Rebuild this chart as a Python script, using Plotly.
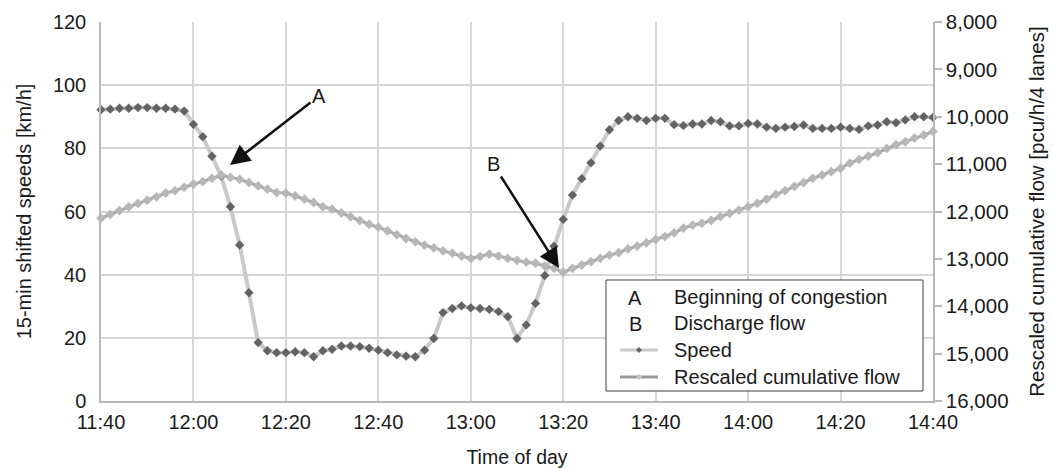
import pandas as pd
import plotly.graph_objects as go

# ---- data ----
times = pd.date_range("2000-01-01 11:40", "2000-01-01 14:40", freq="2min")

speed_kmh = [
    92.2, 92.4, 92.7, 92.7, 92.9, 92.9, 92.7, 92.7, 92.4, 91.8,
    87.6, 83.7, 77.5, 71.2, 61.5, 49.4, 34.3, 18.5, 15.9, 15.3,
    15.3, 15.6, 15.3, 14.0, 15.9, 16.4, 17.4, 17.4, 17.2, 16.7,
    16.1, 15.3, 14.6, 14.2, 14.0, 16.1, 19.8, 28.0, 29.3, 30.1,
    29.5, 29.3, 29.0, 28.3, 26.7, 19.8, 24.1, 30.9, 39.7, 49.0,
    57.5, 65.2, 70.4, 75.4, 80.7, 85.9, 88.8, 90.0, 89.5, 88.8,
    89.5, 89.5, 87.5, 87.2, 87.7, 87.7, 88.8, 88.4, 87.1, 87.1,
    87.9, 87.7, 86.7, 86.3, 86.7, 86.9, 87.4, 86.3, 86.3, 86.3,
    86.7, 86.3, 86.0, 87.1, 87.4, 88.4, 88.1, 89.0, 90.0, 90.0,
    89.8,
]

cum_flow = [
    12140, 12060, 11980, 11900, 11830, 11760, 11690, 11610, 11560, 11490,
    11420, 11370, 11300, 11230, 11280, 11320, 11390, 11460, 11530, 11600,
    11610, 11670, 11740, 11810, 11900, 11950, 12030, 12110, 12190, 12270,
    12330, 12410, 12490, 12570, 12640, 12710, 12770, 12830, 12880, 12940,
    12990, 12950, 12900, 12940, 12990, 13030, 13070, 13090, 13150, 13200,
    13280, 13200, 13130, 13060, 12990, 12920, 12870, 12790, 12730, 12660,
    12590, 12530, 12450, 12350, 12290, 12250, 12190, 12110, 12040, 11970,
    11900, 11830, 11740, 11640, 11560, 11470, 11390, 11300, 11230, 11160,
    11090, 10980, 10900, 10830, 10760, 10670, 10590, 10530, 10450, 10390,
    10310,
]

legend_items = ["Beginning of congestion", "Discharge flow", "Speed", "Rescaled cumulative flow"]
legend_keys = ["A", "B"]

FONT = "Liberation Sans, Arial, sans-serif"
TXT = "#1a1a1a"
FS = 20
TICK_FS = 19.5

W, H = 1053, 468
L, R, T, B = 101, 120, 22, 67
PW, PH = W - L - R, H - T - B


def px(x):
    return (x - L) / PW


def py(y):
    return (H - B - y) / PH


fig = go.Figure()

fig.add_trace(go.Scatter(
    x=times, y=cum_flow, yaxis="y2", mode="lines+markers",
    line=dict(color="#a8a8a8", width=3),
    marker=dict(symbol="diamond", size=7.5, color="#b7b7b7", line=dict(width=0)),
    cliponaxis=False, showlegend=False, name="Rescaled cumulative flow",
))
fig.add_trace(go.Scatter(
    x=times, y=speed_kmh, mode="lines+markers",
    line=dict(color="#c9c9c9", width=4),
    marker=dict(symbol="diamond", size=7.2, color="#636363", line=dict(width=0)),
    cliponaxis=False, showlegend=False, name="Speed",
))

shapes = []
annotations = []

# legend box
shapes.append(dict(type="rect", xref="paper", yref="paper",
                   x0=px(606), x1=px(923), y0=py(391), y1=py(280),
                   line=dict(color="#404040", width=1), fillcolor="white", layer="above"))
row_y = [297, 323, 350, 377]
for key, yy in zip(legend_keys, row_y[:2]):
    annotations.append(dict(xref="paper", yref="paper", x=px(635), y=py(yy + 1),
                            text=key, showarrow=False, xanchor="center", yanchor="middle",
                            font=dict(family=FONT, size=FS, color=TXT)))
for name, yy in zip(legend_items, row_y):
    annotations.append(dict(xref="paper", yref="paper", x=px(672), y=py(yy),
                            text=name, showarrow=False, xanchor="left", yanchor="middle",
                            font=dict(family=FONT, size=FS, color=TXT)))


def diamond(cx, cy, r, color):
    path = (f"M {px(cx - r)},{py(cy)} L {px(cx)},{py(cy - r)} "
            f"L {px(cx + r)},{py(cy)} L {px(cx)},{py(cy + r)} Z")
    return dict(type="path", xref="paper", yref="paper", path=path,
                fillcolor=color, line=dict(width=0), layer="above")


shapes.append(dict(type="line", xref="paper", yref="paper", x0=px(620), x1=px(658),
                   y0=py(row_y[2]), y1=py(row_y[2]), line=dict(color="#c9c9c9", width=3), layer="above"))
shapes.append(diamond(639, row_y[2], 3, "#666666"))
shapes.append(dict(type="line", xref="paper", yref="paper", x0=px(620), x1=px(658),
                   y0=py(row_y[3]), y1=py(row_y[3]), line=dict(color="#999999", width=3), layer="above"))
shapes.append(diamond(639, row_y[3], 3, "#c4c4c4"))

# arrows A and B
annotations.append(dict(xref="paper", yref="paper", x=px(230), y=py(165),
                        axref="pixel", ayref="pixel", ax=89, ay=-69,
                        text="A", showarrow=True, arrowhead=2, arrowsize=1.6, arrowwidth=2.5,
                        arrowcolor="#111111", standoff=0,
                        font=dict(family=FONT, size=FS, color=TXT)))
annotations.append(dict(xref="paper", yref="paper", x=px(559), y=py(268),
                        axref="pixel", ayref="pixel", ax=-66, ay=-104,
                        text="B", showarrow=True, arrowhead=2, arrowsize=1.6, arrowwidth=2.5,
                        arrowcolor="#111111", standoff=0,
                        font=dict(family=FONT, size=FS, color=TXT)))

GRID = "#d6d6d6"
AX = "#b8b8b8"

fig.update_layout(
    width=W, height=H,
    margin=dict(l=L, r=R, t=T, b=B, pad=0, autoexpand=False),
    paper_bgcolor="white", plot_bgcolor="white",
    font=dict(family=FONT, size=FS, color=TXT),
    showlegend=False,
    xaxis=dict(
        type="date", automargin=False,
        range=[times[0], times[-1]],
        tick0=times[0], dtick=20 * 60 * 1000, tickformat="%H:%M",
        showgrid=True, gridcolor=GRID, gridwidth=1.5,
        showline=True, linecolor=AX, linewidth=1.5,
        ticks="", ticklabelstandoff=2,
        tickfont=dict(family=FONT, size=TICK_FS + 0.5, color=TXT),
        title=dict(text="Time of day", font=dict(family=FONT, size=FS - 0.5, color=TXT), standoff=24),
        zeroline=False,
    ),
    yaxis=dict(
        range=[0, 120], dtick=20, automargin=False,
        showgrid=True, gridcolor=GRID, gridwidth=1.5,
        showline=True, linecolor=AX, linewidth=1.5,
        ticks="outside", ticklen=9, tickcolor="rgba(0,0,0,0)",
        tickfont=dict(family=FONT, size=TICK_FS + 0.5, color=TXT),
        title=dict(text="15-min shifted speeds [km/h]", font=dict(family=FONT, size=FS, color=TXT), standoff=16),
        zeroline=False,
    ),
    yaxis2=dict(
        overlaying="y", side="right", automargin=False,
        range=[16000, 8000], dtick=1000, tickformat=",d",
        showgrid=False,
        showline=True, linecolor=AX, linewidth=1.5,
        ticks="outside", ticklen=7, tickcolor=AX, tickwidth=1.5,
        tickfont=dict(family=FONT, size=TICK_FS + 1, color=TXT),
        title=dict(text="Rescaled cumulative flow [pcu/h/4 lanes]", font=dict(family=FONT, size=FS + 0.5, color=TXT), standoff=22),
        zeroline=False,
    ),
    shapes=shapes,
    annotations=annotations,
)

fig.write_html("out.html")
